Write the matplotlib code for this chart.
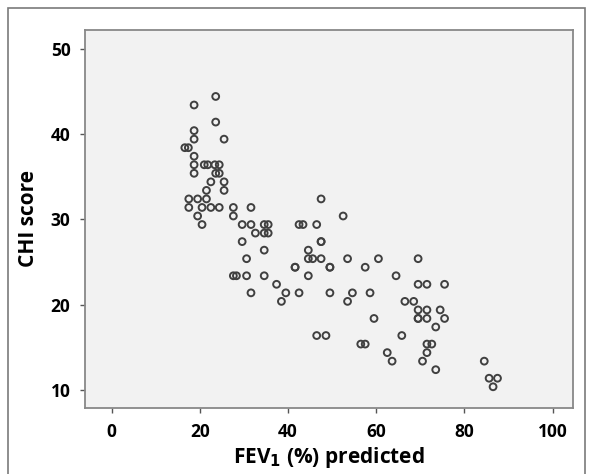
import matplotlib
matplotlib.use("Agg")
import matplotlib.pyplot as plt
from matplotlib.patches import Rectangle

fev1 = [23.6, 18.7, 23.6, 18.7, 18.7, 25.5, 16.6, 17.4, 18.7, 18.7,
        21.0, 21.8, 23.4, 24.4, 18.7, 23.6, 24.4, 22.5, 25.5, 21.5,
        25.5, 17.5, 19.5, 21.5, 47.5, 17.5, 20.5, 22.5, 24.4, 27.6,
        31.6, 19.5, 27.6, 52.5, 20.5, 29.6, 31.6, 34.6, 35.5, 42.5,
        43.4, 46.5, 32.6, 34.6, 35.5, 29.6, 47.5, 47.5, 34.6, 44.6,
        30.6, 44.6, 45.6, 47.5, 53.5, 60.5, 69.5, 41.6, 41.6, 49.5,
        49.5, 57.5, 27.6, 28.3, 30.6, 34.6, 44.6, 64.5, 37.4, 69.5,
        71.5, 75.5, 31.6, 39.5, 42.5, 49.5, 54.6, 58.6, 38.5, 53.5,
        66.5, 68.5, 69.5, 71.5, 74.5, 59.5, 69.5, 69.5, 71.5, 75.5,
        73.5, 46.5, 48.6, 65.8, 56.5, 57.5, 71.5, 72.6, 62.5, 71.5,
        63.6, 70.5, 84.5, 73.5, 85.6, 87.5, 86.5]
chi = [44.4, 43.4, 41.4, 40.4, 39.4, 39.4, 38.4, 38.4, 37.4, 36.4,
       36.4, 36.4, 36.4, 36.4, 35.4, 35.4, 35.4, 34.4, 34.4, 33.4,
       33.4, 32.4, 32.4, 32.4, 32.4, 31.4, 31.4, 31.4, 31.4, 31.4,
       31.4, 30.4, 30.4, 30.4, 29.4, 29.4, 29.4, 29.4, 29.4, 29.4,
       29.4, 29.4, 28.4, 28.4, 28.4, 27.4, 27.4, 27.4, 26.4, 26.4,
       25.4, 25.4, 25.4, 25.4, 25.4, 25.4, 25.4, 24.4, 24.4, 24.4,
       24.4, 24.4, 23.4, 23.4, 23.4, 23.4, 23.4, 23.4, 22.4, 22.4,
       22.4, 22.4, 21.4, 21.4, 21.4, 21.4, 21.4, 21.4, 20.4, 20.4,
       20.4, 20.4, 19.4, 19.4, 19.4, 18.4, 18.4, 18.4, 18.4, 18.4,
       17.4, 16.4, 16.4, 16.4, 15.4, 15.4, 15.4, 15.4, 14.4, 14.4,
       13.4, 13.4, 13.4, 12.4, 11.4, 11.4, 10.4]

x_ticks = [0, 20, 40, 60, 80, 100]
y_ticks = [10, 20, 30, 40, 50]

plt.rcParams['font.family'] = ['Open Sans', 'DejaVu Sans']

fig = plt.figure(figsize=(5.9, 4.74), dpi=100)
fig.patch.set_facecolor('white')
fig.patches.append(Rectangle((8/590, -0.05), (585-8)/590, 1.05 - 8/474,
                             transform=fig.transFigure, fill=False,
                             edgecolor='#7a7a7a', linewidth=1.2))

ax = fig.add_axes([0.144, 0.139, 0.827, 0.798])
ax.set_facecolor('#f2f2f2')
ax.scatter(fev1, chi, s=24, facecolors='none', edgecolors='#404040',
           linewidths=1.4, zorder=3)

ax.set_xlim(-6.05, 104.6)
ax.set_ylim(7.9, 52.2)
ax.set_xticks(x_ticks)
ax.set_yticks(y_ticks)
ax.set_xticklabels([str(v) for v in x_ticks], fontsize=12.5, fontweight='bold')
ax.set_yticklabels([str(v) for v in y_ticks], fontsize=12.5, fontweight='bold')
ax.tick_params(direction='out', length=3.5, width=1, color='#555555', pad=7)
for s in ax.spines.values():
    s.set_color('#888888')
    s.set_linewidth(1.3)

ax.set_xlabel(r'FEV$_\mathbf{1}$ (%) predicted', fontsize=15,
              fontweight='bold', labelpad=3)
ax.set_ylabel('CHI score', fontsize=15, fontweight='bold', labelpad=8)

fig.savefig('out.png', dpi=100)
